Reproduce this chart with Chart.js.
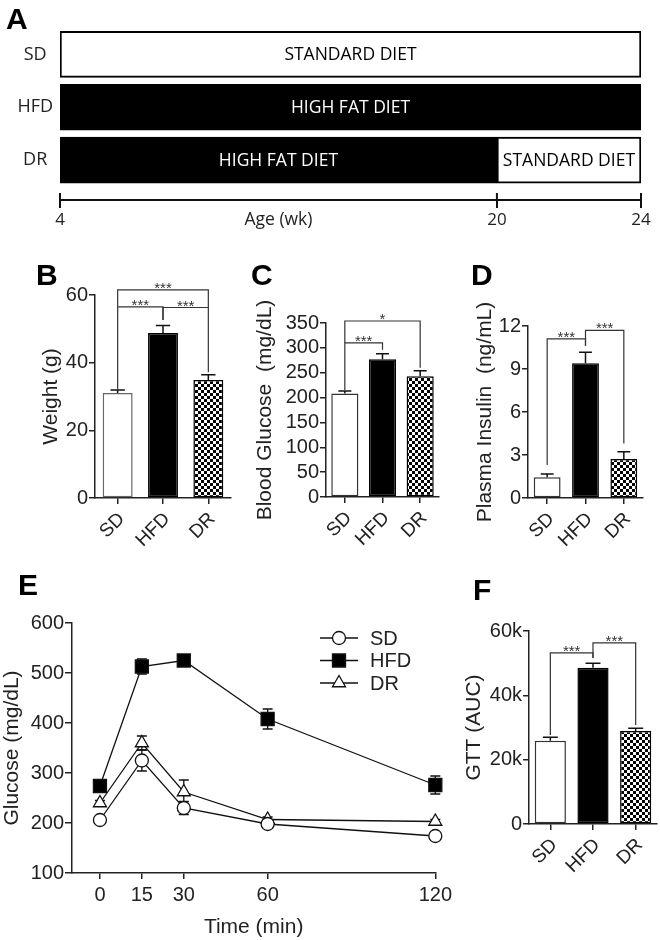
<!DOCTYPE html>
<html>
<head>
<meta charset="utf-8">
<script src="https://cdn.jsdelivr.net/npm/chart.js@4.4.1/dist/chart.umd.min.js"></script>
<style>
  body { margin: 0; background: #fff; }
  #fig { position: relative; width: 660px; height: 940px; overflow: hidden; }
  canvas { position: absolute; }
  .tag { position: absolute; font: bold 30px "Liberation Sans", Arial, sans-serif; line-height: 1; color: #000; }
</style>
</head>
<body>
<div id="fig">
  <canvas id="cA"></canvas>
  <canvas id="cB"></canvas>
  <canvas id="cC"></canvas>
  <canvas id="cD"></canvas>
  <canvas id="cE"></canvas>
  <canvas id="cF"></canvas>
  <div class="tag" style="left:6px;top:4px">A</div>
  <div class="tag" style="left:36px;top:260px">B</div>
  <div class="tag" style="left:251px;top:260px">C</div>
  <div class="tag" style="left:471px;top:260px">D</div>
  <div class="tag" style="left:18px;top:570px">E</div>
  <div class="tag" style="left:473px;top:575px">F</div>
</div>
<script>
// ---- data ----
const groups = ['SD', 'HFD', 'DR'];
const weightMean = [31.0, 48.8, 34.9];
const weightSem = [0.9, 2.2, 1.5];
const glucoseMean = [208, 277, 243];
const glucoseSem = [5, 11, 11];
const insulinMean = [1.44, 9.4, 2.72];
const insulinSem = [0.23, 0.77, 0.51];
const gttMean = [25900, 48600, 28900];
const gttSem = [1100, 1400, 900];

// timeline (panel A)
const dietRows = ['SD', 'HFD', 'DR'];
const firstDiet = ['STANDARD DIET', 'HIGH FAT DIET', 'HIGH FAT DIET'];
const firstWeeks = [[4, 24], [4, 24], [4, 20]];
const secondDiet = ['', '', 'STANDARD DIET'];
const secondWeeks = [null, null, [20, 24]];
const ageTicks = [4, 20, 24];

// glucose tolerance test (panel E)
const gttTimes = [0, 15, 30, 60, 120];
const sdCurve = [206, 325, 230, 198, 174];
const sdCurveSem = [4, 21, 13, 5, 4];
const hfdCurve = [274, 513, 525, 408, 276];
const hfdCurveSem = [8, 15, 8, 20, 18];
const drCurve = [240, 360, 262, 207, 203];
const drCurveSem = [5, 14, 24, 5, 4];

// significance brackets: groups a-b, bracket top, leg ends (data units)
const weightSig = [
  {a: 0, b: 1, top: 56.5, ya: 32.2, yb: 52.6, text: '***'},
  {a: 1, b: 2, top: 56.3, ya: 52.6, yb: 37.2, text: '***'},
  {a: 0, b: 2, top: 61.5, ya: 56.5, yb: 56.3, text: '***'}
];
const glucoseSig = [
  {a: 0, b: 1, top: 310, ya: 215, yb: 296, text: '***'},
  {a: 0, b: 2, top: 354, ya: 310, yb: 260, text: '*'}
];
const insulinSig = [
  {a: 0, b: 1, top: 11.1, ya: 2.3, yb: 10.6, text: '***'},
  {a: 1, b: 2, top: 11.7, ya: 10.6, yb: 3.8, text: '***'}
];
const gttSig = [
  {a: 0, b: 1, top: 53200, ya: 27700, yb: 51600, text: '***'},
  {a: 1, b: 2, top: 56300, ya: 51600, yb: 30800, text: '***'}
];

// ---- setup ----
const ink = '#222';
const SANS = '"Liberation Sans", Arial, sans-serif';
Chart.defaults.font.family = SANS;
Chart.defaults.color = ink;
Chart.defaults.animation = false;
Chart.defaults.events = [];
Chart.defaults.plugins.legend.display = false;
Chart.defaults.plugins.tooltip.enabled = false;

function place(id, left, top, w, h) {
  const c = document.getElementById(id);
  c.width = w; c.height = h;
  c.style.left = left + 'px'; c.style.top = top + 'px';
  return c;
}

function checker(size) {
  const c = document.createElement('canvas');
  c.width = c.height = size * 2;
  const g = c.getContext('2d');
  g.fillStyle = '#fff'; g.fillRect(0, 0, size * 2, size * 2);
  g.fillStyle = '#000'; g.fillRect(0, 0, size, size); g.fillRect(size, size, size, size);
  return g.createPattern(c, 'repeat');
}

// linear scale with uneven spacing between knots (timeline is not drawn to scale)
class BrokenScale extends Chart.LinearScale {
  getPixelForValue(v) {
    const k = ageTicks, f = [0, 0.752, 1];
    let t = 0;
    for (let i = 1; i < k.length; i++) {
      if (v <= k[i] || i === k.length - 1) {
        t = f[i - 1] + (v - k[i - 1]) / (k[i] - k[i - 1]) * (f[i] - f[i - 1]);
        break;
      }
    }
    return this.getPixelForDecimal(t);
  }
}
BrokenScale.id = 'broken';
Chart.register(BrokenScale);

// ---- panel A ----
function dietDataset(weeks, diets) {
  const idx = dietRows.map((r, i) => i).filter(i => weeks[i]);
  return {
    data: idx.map(i => ({y: i, x: weeks[i]})),
    diets: idx.map(i => diets[i]),
    backgroundColor: idx.map(i => diets[i].startsWith('HIGH') ? '#000' : '#fff'),
    borderColor: '#000',
    borderWidth: 2,
    borderSkipped: false,
    barThickness: 46,
    grouped: false
  };
}

const dietText = {
  id: 'dietText',
  afterDatasetsDraw(chart) {
    const ctx = chart.ctx;
    ctx.save();
    ctx.font = '17.5px "Open Sans"';
    ctx.textAlign = 'center';
    ctx.textBaseline = 'middle';
    chart.data.datasets.forEach((ds, di) => {
      chart.getDatasetMeta(di).data.forEach((bar, j) => {
        ctx.fillStyle = ds.diets[j].startsWith('HIGH') ? '#fff' : '#000';
        ctx.fillText(ds.diets[j], (bar.x + bar.base) / 2, bar.y + 1);
      });
    });
    const x = chart.scales.x;
    ctx.strokeStyle = '#111'; ctx.lineWidth = 2;
    ctx.beginPath();
    x.ticks.forEach((t, i) => {
      const px = x.getPixelForTick(i);
      ctx.moveTo(px, x.top - 7); ctx.lineTo(px, x.top);
    });
    ctx.stroke();
    ctx.fillStyle = ink;
    ctx.fillText('Age (wk)', x.getPixelForValue((ageTicks[0] + ageTicks[1]) / 2), x.top + 20);
    ctx.restore();
  }
};

new Chart(place('cA', 0, 0, 660, 235), {
  type: 'bar',
  data: { datasets: [dietDataset(firstWeeks, firstDiet), dietDataset(secondWeeks, secondDiet)] },
  options: {
    responsive: false,
    indexAxis: 'y',
    layout: { padding: { left: 0, right: 19, top: 28, bottom: 0 } },
    scales: {
      x: {
        type: 'broken', min: 4, max: 24, position: 'bottom', offset: false,
        afterBuildTicks: s => { s.ticks = ageTicks.map(v => ({value: v})); },
        ticks: { font: { family: '"Open Sans"', size: 17 }, color: ink, padding: 2, maxRotation: 0 },
        grid: { drawOnChartArea: false, tickLength: 8, color: '#111', lineWidth: 2, offset: false },
        border: { color: '#111', width: 2 },
        afterFit: s => { s.height = 35; }
      },
      y: {
        type: 'linear', min: -0.5, max: 2.755, reverse: true, offset: false,
        afterBuildTicks: s => { s.ticks = dietRows.map((r, i) => ({value: i})); },
        ticks: { callback: v => dietRows[v], font: { family: '"Open Sans"', size: 18 }, color: ink, crossAlign: 'center', padding: 7 },
        grid: { display: false, drawTicks: false, offset: false },
        border: { display: false },
        afterFit: s => { s.width = 60; }
      }
    }
  },
  plugins: [dietText]
});

// ---- bar panels B, C, D, F ----
const barErrors = {
  id: 'barErrors',
  afterDatasetsDraw(chart) {
    const ds = chart.data.datasets[0], y = chart.scales.y, ctx = chart.ctx;
    ctx.save();
    ctx.strokeStyle = '#111'; ctx.lineWidth = 1.5;
    chart.getDatasetMeta(0).data.forEach((bar, i) => {
      const top = y.getPixelForValue(ds.data[i] + ds.errors[i]);
      const cap = bar.width * 0.24;
      ctx.beginPath();
      ctx.moveTo(bar.x, bar.y); ctx.lineTo(bar.x, top);
      ctx.moveTo(bar.x - cap, top); ctx.lineTo(bar.x + cap, top);
      ctx.stroke();
    });
    ctx.restore();
  }
};

function sigPlugin(list) {
  return {
    id: 'sig',
    afterDraw(chart) {
      const x = chart.scales.x, y = chart.scales.y, ctx = chart.ctx;
      ctx.save();
      ctx.strokeStyle = '#333'; ctx.lineWidth = 1.2;
      ctx.fillStyle = '#333'; ctx.font = '15px ' + SANS;
      ctx.textAlign = 'center'; ctx.textBaseline = 'alphabetic';
      list.forEach(s => {
        const xa = x.getPixelForValue(s.a), xb = x.getPixelForValue(s.b), yt = y.getPixelForValue(s.top);
        ctx.beginPath();
        ctx.moveTo(xa, y.getPixelForValue(s.ya)); ctx.lineTo(xa, yt);
        ctx.lineTo(xb, yt); ctx.lineTo(xb, y.getPixelForValue(s.yb));
        ctx.stroke();
        ctx.fillText(s.text, (xa + xb) / 2, yt + 3);
      });
      ctx.restore();
    }
  };
}

function barPanel(id, box, means, sems, yMax, yStep, yTitle, sig, fmt) {
  const left = Math.round(box.titleX - 12.6);
  const top = box.y0 - box.padTop;
  const canvas = place(id, left, top, box.x1 - left + box.padRight, box.y1 + 56 - top);
  return new Chart(canvas, {
    type: 'bar',
    data: {
      labels: groups,
      datasets: [{
        data: means,
        errors: sems,
        backgroundColor: ['#fff', '#000', checker(3)],
        borderColor: [box.sdEdge || '#333', '#000', '#000'],
        borderWidth: 1.5,
        borderSkipped: false,
        barPercentage: box.barPct,
        categoryPercentage: 1
      }]
    },
    options: {
      responsive: false,
      layout: { padding: { left: 0, top: box.padTop, right: box.padRight, bottom: 0 } },
      scales: {
        x: {
          grid: { offset: false, drawOnChartArea: false, tickLength: 6, color: ink, lineWidth: 1.5 },
          border: { color: ink, width: 1.5 },
          ticks: { font: { size: 19 }, color: ink, minRotation: 45, maxRotation: 45, autoSkip: false, padding: 4, labelOffset: 4 },
          afterFit: s => { s.height = 56; }
        },
        y: {
          min: 0, max: yMax,
          ticks: { stepSize: yStep, autoSkip: false, font: { size: 20 }, color: ink, padding: 1, callback: fmt || (v => v) },
          grid: { drawOnChartArea: false, tickLength: 6, color: ink, lineWidth: 1.5 },
          border: { color: ink, width: 1.5 },
          title: { display: true, text: yTitle, font: { size: 21 }, color: ink, padding: 0 },
          afterFit: s => { s.width = box.x0 - left; }
        }
      }
    },
    plugins: [barErrors, sigPlugin(sig)]
  });
}

barPanel('cB', {x0: 95, x1: 231, y0: 295, y1: 498, titleX: 52, padTop: 55, padRight: 6, barPct: 0.66, sdEdge: '#666'},
  weightMean, weightSem, 60, 20, 'Weight (g)', weightSig);
barPanel('cC', {x0: 326, x1: 439, y0: 323, y1: 497, titleX: 266, padTop: 83, padRight: 6, barPct: 0.72},
  glucoseMean, glucoseSem, 350, 50, 'Blood Glucose  (mg/dL)', glucoseSig);
barPanel('cD', {x0: 528, x1: 643, y0: 326, y1: 498, titleX: 486, padTop: 86, padRight: 10, barPct: 0.7},
  insulinMean, insulinSem, 12, 3, 'Plasma Insulin  (ng/mL)', insulinSig);
barPanel('cF', {x0: 529, x1: 657, y0: 631, y1: 824, titleX: 475, padTop: 71, padRight: 3, barPct: 0.73},
  gttMean, gttSem, 60000, 20000, 'GTT (AUC)', gttSig, v => v === 0 ? '0' : (v / 1000) + 'k');

// ---- panel E ----
const curveErrors = {
  id: 'curveErrors',
  beforeDatasetsDraw(chart) {
    const y = chart.scales.y, ctx = chart.ctx;
    ctx.save();
    ctx.strokeStyle = '#111'; ctx.lineWidth = 1.3;
    chart.data.datasets.forEach((ds, di) => {
      chart.getDatasetMeta(di).data.forEach((pt, i) => {
        const v = ds.data[i].y, e = ds.errors[i];
        const hi = y.getPixelForValue(v + e), lo = y.getPixelForValue(v - e);
        ctx.beginPath();
        ctx.moveTo(pt.x, lo); ctx.lineTo(pt.x, hi);
        ctx.moveTo(pt.x - 5, hi); ctx.lineTo(pt.x + 5, hi);
        ctx.moveTo(pt.x - 5, lo); ctx.lineTo(pt.x + 5, lo);
        ctx.stroke();
      });
    });
    ctx.restore();
  }
};

const curveLegend = {
  id: 'curveLegend',
  afterDraw(chart) {
    const ctx = chart.ctx, ca = chart.chartArea;
    chart.data.datasets.forEach((ds, i) => {
      const x0 = ca.left + 248, y = ca.top + 15 + i * 22.5;
      ctx.save();
      ctx.strokeStyle = '#111'; ctx.lineWidth = 1.3;
      ctx.beginPath(); ctx.moveTo(x0, y); ctx.lineTo(x0 + 38, y); ctx.stroke();
      ctx.fillStyle = ds.pointBackgroundColor;
      Chart.helpers.drawPoint(ctx, {pointStyle: ds.pointStyle, radius: ds.pointRadius, borderWidth: 1.3, rotation: 0}, x0 + 19, y);
      ctx.fillStyle = ink; ctx.font = '20px ' + SANS;
      ctx.textAlign = 'left'; ctx.textBaseline = 'middle';
      ctx.fillText(ds.label, x0 + 50, y + 1);
      ctx.restore();
    });
  }
};

function curve(label, values, sems, style, radius, fill) {
  return {
    label: label,
    data: gttTimes.map((t, i) => ({x: t, y: values[i]})),
    errors: sems,
    borderColor: '#111', borderWidth: 1.3,
    pointStyle: style, pointRadius: radius,
    pointBackgroundColor: fill, pointBorderColor: '#111', pointBorderWidth: 1.3,
    tension: 0, clip: false
  };
}

new Chart(place('cE', 0, 560, 456, 380), {
  type: 'line',
  data: {
    datasets: [
      curve('SD', sdCurve, sdCurveSem, 'circle', 6.5, '#fff'),
      curve('HFD', hfdCurve, hfdCurveSem, 'rect', 9.2, '#000'),
      curve('DR', drCurve, drCurveSem, 'triangle', 7.5, '#fff')
    ]
  },
  options: {
    responsive: false,
    layout: { padding: { left: 0, top: 63, right: 15, bottom: 0 } },
    scales: {
      x: {
        type: 'linear', min: -10, max: 120,
        afterBuildTicks: s => { s.ticks = gttTimes.map(v => ({value: v})); },
        ticks: { font: { size: 20 }, color: ink, padding: 4, maxRotation: 0 },
        grid: { drawOnChartArea: false, tickLength: 6, color: ink, lineWidth: 1.5 },
        border: { color: ink, width: 1.5 },
        title: { display: true, text: 'Time (min)', font: { size: 21 }, color: ink, padding: 0 },
        afterFit: s => { s.height = 67; }
      },
      y: {
        min: 100, max: 600,
        ticks: { stepSize: 100, font: { size: 20 }, color: ink, padding: 1 },
        grid: { drawOnChartArea: false, tickLength: 7, color: ink, lineWidth: 1.5 },
        border: { color: ink, width: 1.5 },
        title: { display: true, text: 'Glucose (mg/dL)', font: { size: 21 }, color: ink, padding: 0 },
        afterFit: s => { s.width = 72; }
      }
    }
  },
  plugins: [curveErrors, curveLegend]
});
</script>
</body>
</html>
